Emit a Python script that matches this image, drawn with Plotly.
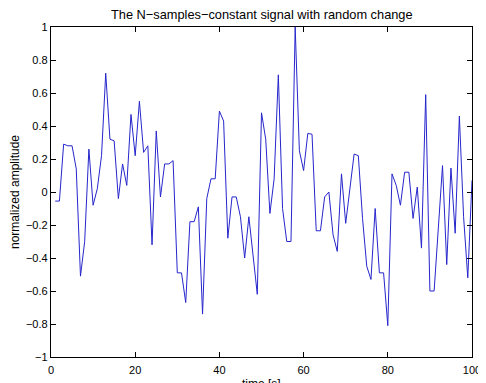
import plotly.graph_objects as go

time_s = list(range(1, 101))
amplitude = [
    -0.055, -0.055, 0.29, 0.28, 0.28, 0.14, -0.51, -0.30, 0.26, -0.08,
    0.02, 0.22, 0.72, 0.32, 0.31, -0.04, 0.17, 0.04, 0.47, 0.22,
    0.55, 0.24, 0.28, -0.32, 0.37, -0.03, 0.17, 0.17, 0.19, -0.49,
    -0.49, -0.67, -0.18, -0.18, -0.09, -0.74, -0.04, 0.08, 0.08, 0.49,
    0.43, -0.28, -0.03, -0.03, -0.15, -0.40, -0.15, -0.37, -0.62, 0.48,
    0.32, -0.13, 0.08, 0.71, -0.10, -0.30, -0.30, 1.0, 0.25, 0.13,
    0.355, 0.35, -0.235, -0.235, -0.03, 0.0, -0.26, -0.36, 0.11, -0.19,
    0.04, 0.23, 0.22, -0.16, -0.45, -0.53, -0.10, -0.49, -0.49, -0.81,
    0.11, 0.04, -0.08, 0.12, 0.12, -0.16, 0.03, -0.34, 0.59, -0.60,
    -0.60, -0.20, 0.16, -0.44, 0.145, -0.25, 0.46, -0.15, -0.52, 0.07,
]
x_ticks = [0, 20, 40, 60, 80, 100]
y_ticks = [1, 0.8, 0.6, 0.4, 0.2, 0, -0.2, -0.4, -0.6, -0.8, -1]

font = "Liberation Sans, Arial, Helvetica, sans-serif"

fig = go.Figure()
fig.add_trace(go.Scatter(x=time_s, y=amplitude, mode="lines",
                         line=dict(color="#2626cc", width=1), showlegend=False))

axis_common = dict(showline=True, linecolor="black", linewidth=1.3, mirror="ticks",
                   ticks="inside", ticklen=5, tickcolor="black", tickwidth=1,
                   showgrid=False, zeroline=False,
                   tickfont=dict(family=font, size=11, color="black"))

fig.update_xaxes(range=[0, 100], tickvals=x_ticks, **axis_common,
                 ticklabelstandoff=3, automargin=False)
fig.update_yaxes(range=[-1, 1], tickvals=y_ticks, **axis_common,
                 title=dict(text="normalized amplitude", font=dict(family=font, size=12, color="black"), standoff=8),
                 automargin=False)

fig.add_annotation(text="time [s]", xref="paper", yref="paper", x=0.5, y=0,
                   xanchor="center", yanchor="middle", yshift=-27, showarrow=False,
                   font=dict(family=font, size=12, color="black"))

fig.update_layout(
    width=478, height=375,
    margin=dict(l=43, r=14, t=19, b=26),
    paper_bgcolor="white", plot_bgcolor="white",
    title=dict(text="The N\u2212samples\u2212constant signal with random change",
               x=0.531, xanchor="center", y=0.982, yanchor="middle",
               font=dict(family=font, size=12.8, color="black")),
)

fig.write_html("out.html")
